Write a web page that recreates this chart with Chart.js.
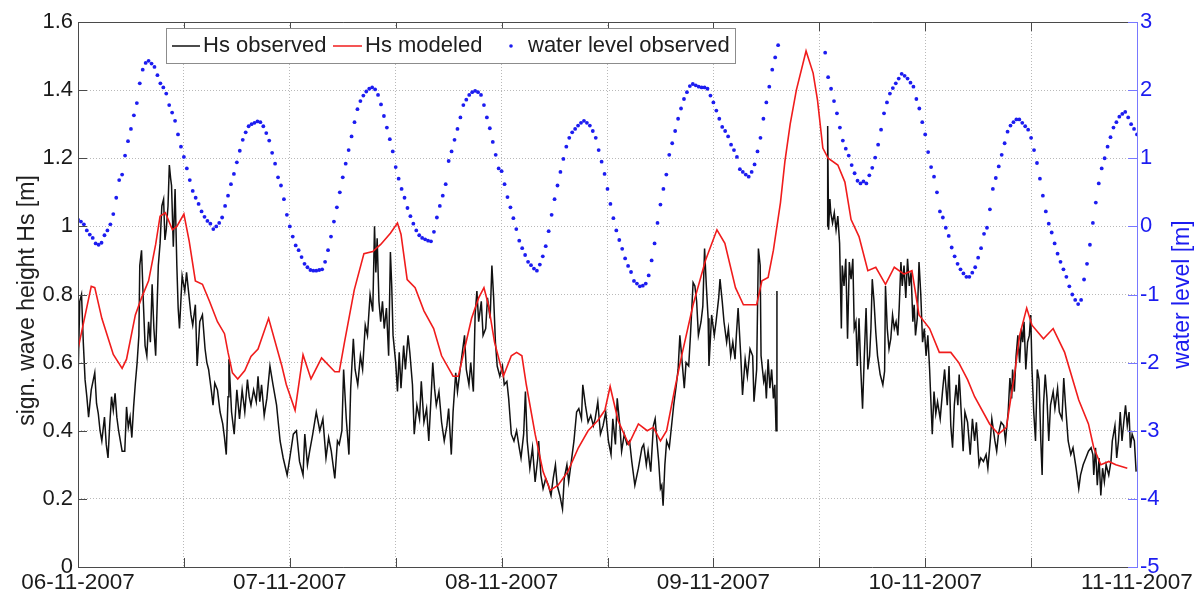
<!DOCTYPE html>
<html>
<head>
<meta charset="utf-8">
<title>Hs and water level, 6-11 Nov 2007</title>
<script src="https://cdn.jsdelivr.net/npm/chart.js@4/dist/chart.umd.min.js"></script>
<style>
  html, body { margin: 0; padding: 0; background: #fff; }
</style>
</head>
<body>
<canvas id="waveChart" width="1202" height="592"></canvas>
<script>
// x axis runs in hours from 06-11-2007 00:00
const dayLabels = ["06-11-2007", "07-11-2007", "08-11-2007", "09-11-2007", "10-11-2007", "11-11-2007"];

// measured significant wave height [m] as [hour, Hs]; null marks the logger gap
const hsObserved = [
  [0,0.55],[0.2,0.78],[0.4,0.80],[0.6,0.66],[0.8,0.55],[1.0,0.50],[1.2,0.44],[1.5,0.52],[1.9,0.57],[2.1,0.48],
  [2.3,0.45],[2.5,0.40],[2.7,0.37],[3.0,0.44],[3.2,0.36],[3.4,0.32],[3.6,0.42],[3.8,0.50],[4.0,0.46],[4.2,0.51],
  [4.4,0.44],[4.6,0.40],[4.8,0.37],[5.0,0.34],[5.3,0.34],[5.5,0.47],[5.7,0.41],[5.9,0.44],[6.1,0.38],[6.3,0.47],
  [6.5,0.54],[6.7,0.60],[6.9,0.68],[7.0,0.885],[7.2,0.93],[7.4,0.78],[7.6,0.65],[7.8,0.62],[8.0,0.72],[8.2,0.66],
  [8.4,0.83],[8.6,0.70],[8.8,0.62],[9.1,0.885],[9.3,0.95],[9.5,1.06],[9.7,1.08],[9.85,0.96],[10.0,0.99],[10.2,1.06],
  [10.35,1.18],[10.5,1.14],[10.6,1.12],[10.8,0.94],[11.0,1.11],[11.2,0.885],[11.35,0.76],[11.5,0.70],[11.8,0.855],[12.1,0.81],
  [12.3,0.865],[12.6,0.79],[12.8,0.74],[13.0,0.71],[13.3,0.77],[13.5,0.59],[13.8,0.72],[14.1,0.74],[14.4,0.64],[14.6,0.60],
  [14.8,0.58],[15.1,0.52],[15.3,0.475],[15.5,0.54],[15.8,0.52],[16.1,0.455],[16.4,0.42],[16.6,0.38],[16.8,0.33],[17.0,0.50],
  [17.1,0.61],[17.4,0.455],[17.7,0.39],[18.0,0.52],[18.3,0.435],[18.6,0.52],[18.9,0.455],[19.2,0.55],[19.4,0.50],[19.6,0.475],
  [19.9,0.52],[20.2,0.485],[20.4,0.56],[20.6,0.485],[20.8,0.535],[21.1,0.445],[21.4,0.495],[21.75,0.59],[22.1,0.535],[22.5,0.475],
  [22.9,0.37],[23.25,0.32],[23.7,0.27],[24.0,0.32],[24.4,0.39],[24.75,0.40],[25.1,0.31],[25.5,0.27],[25.7,0.39],[26.0,0.30],
  [26.25,0.34],[26.6,0.39],[27.0,0.455],[27.4,0.40],[27.75,0.435],[28.1,0.32],[28.4,0.38],[28.7,0.34],[29.1,0.26],[29.4,0.37],
  [29.6,0.36],[29.9,0.40],[30.1,0.58],[30.4,0.435],[30.7,0.33],[30.9,0.525],[31.2,0.67],[31.4,0.58],[31.7,0.535],[32.0,0.62],
  [32.25,0.58],[32.55,0.71],[32.8,0.68],[33.1,0.80],[33.4,0.75],[33.6,1.00],[33.75,0.865],[33.9,0.965],[34.1,0.78],[34.3,0.72],
  [34.5,0.78],[34.7,0.70],[34.95,0.76],[35.2,0.62],[35.4,0.925],[35.55,0.825],[35.7,0.68],[36.0,0.60],[36.2,0.515],[36.4,0.63],
  [36.6,0.525],[36.9,0.65],[37.1,0.58],[37.4,0.68],[37.6,0.63],[37.9,0.535],[38.1,0.39],[38.4,0.475],[38.7,0.435],[38.9,0.545],
  [39.2,0.425],[39.5,0.465],[39.75,0.37],[40.0,0.495],[40.2,0.60],[40.4,0.525],[40.6,0.475],[40.9,0.515],[41.2,0.425],[41.5,0.37],
  [41.8,0.415],[42.0,0.465],[42.3,0.33],[42.5,0.455],[42.8,0.57],[43.0,0.515],[43.3,0.58],[43.5,0.62],[43.8,0.68],[44.0,0.58],
  [44.3,0.535],[44.5,0.60],[44.8,0.515],[45.0,0.74],[45.2,0.81],[45.4,0.72],[45.7,0.78],[45.9,0.68],[46.2,0.70],[46.4,0.79],
  [46.7,0.73],[46.9,0.885],[47.1,0.79],[47.3,0.66],[47.5,0.59],[47.8,0.56],[48.1,0.59],[48.3,0.535],[48.6,0.545],[48.8,0.495],
  [49.1,0.39],[49.4,0.37],[49.7,0.40],[50.0,0.35],[50.2,0.32],[50.5,0.39],[50.7,0.515],[50.9,0.37],[51.2,0.29],[51.5,0.35],
  [51.8,0.25],[52.1,0.32],[52.2,0.37],[52.45,0.27],[52.7,0.23],[53.0,0.26],[53.3,0.24],[53.6,0.21],[53.85,0.26],[54.1,0.30],
  [54.3,0.24],[54.6,0.21],[54.9,0.17],[55.1,0.26],[55.4,0.30],[55.6,0.25],[55.9,0.31],[56.2,0.37],[56.5,0.455],[56.75,0.465],
  [57.05,0.435],[57.2,0.535],[57.5,0.475],[57.8,0.425],[58.1,0.445],[58.4,0.415],[58.6,0.435],[58.9,0.485],[59.2,0.39],[59.5,0.415],
  [59.8,0.455],[60.1,0.37],[60.4,0.33],[60.6,0.435],[60.9,0.36],[61.1,0.495],[61.4,0.415],[61.6,0.34],[61.9,0.39],[62.2,0.36],
  [62.5,0.37],[62.75,0.31],[63.1,0.24],[63.5,0.29],[63.9,0.35],[64.1,0.36],[64.4,0.30],[64.6,0.34],[64.9,0.28],[65.2,0.415],
  [65.4,0.435],[65.6,0.37],[65.8,0.31],[66.0,0.23],[66.15,0.24],[66.3,0.18],[66.5,0.30],[66.7,0.37],[67.0,0.35],[67.3,0.425],
  [67.5,0.475],[67.8,0.535],[68.0,0.58],[68.2,0.68],[68.4,0.62],[68.7,0.525],[68.9,0.60],[69.2,0.59],[69.4,0.68],[69.7,0.835],
  [69.9,0.825],[70.1,0.78],[70.3,0.68],[70.6,0.72],[70.8,0.765],[71.0,0.935],[71.2,0.825],[71.4,0.73],[71.5,0.59],[71.8,0.74],
  [72.1,0.68],[72.3,0.72],[72.6,0.79],[72.75,0.845],[73.0,0.78],[73.2,0.72],[73.5,0.66],[73.7,0.70],[73.96,0.62],[74.2,0.66],
  [74.45,0.61],[74.6,0.68],[74.8,0.76],[75.1,0.62],[75.3,0.505],[75.6,0.61],[75.85,0.56],[76.15,0.64],[76.45,0.62],[76.6,0.485],
  [76.9,0.58],[77.1,0.935],[77.3,0.885],[77.4,0.62],[77.7,0.545],[77.85,0.565],[78.0,0.495],[78.2,0.61],[78.4,0.525],[78.6,0.58],
  [78.8,0.495],[78.96,0.535],[79.1,0.40],[79.2,0.81],[82,null],
  [84.9,1.00],[84.95,1.295],[85.05,0.99],[85.2,1.08],[85.3,1.04],[85.5,1.01],[85.7,1.04],[85.9,0.99],[86.1,1.03],[86.3,0.95],
  [86.5,0.70],[86.6,0.885],[86.8,0.825],[87.0,0.905],[87.2,0.67],[87.4,0.895],[87.6,0.845],[87.8,0.905],[87.96,0.70],[88.15,0.72],
  [88.3,0.59],[88.5,0.73],[88.7,0.58],[88.9,0.465],[89.1,0.62],[89.3,0.76],[89.5,0.58],[89.7,0.62],[89.85,0.70],[90.0,0.845],
  [90.2,0.78],[90.4,0.69],[90.6,0.62],[90.9,0.565],[91.2,0.535],[91.4,0.575],[91.5,0.825],[91.7,0.70],[91.9,0.64],[92.1,0.67],
  [92.3,0.74],[92.5,0.70],[92.7,0.72],[92.9,0.68],[93.05,0.76],[93.25,0.895],[93.4,0.825],[93.6,0.885],[93.8,0.79],[94.0,0.905],
  [94.2,0.825],[94.4,0.865],[94.6,0.72],[94.75,0.77],[94.9,0.68],[95.1,0.73],[95.3,0.895],[95.5,0.80],[95.7,0.66],[95.9,0.70],
  [96.1,0.62],[96.3,0.68],[96.5,0.58],[96.6,0.515],[96.8,0.39],[97.0,0.515],[97.2,0.45],[97.4,0.485],[97.7,0.435],[97.96,0.515],
  [98.2,0.58],[98.5,0.475],[98.7,0.59],[98.9,0.415],[99.1,0.35],[99.3,0.475],[99.5,0.535],[99.7,0.475],[99.85,0.565],[100.0,0.495],
  [100.3,0.34],[100.5,0.455],[100.8,0.425],[101.1,0.33],[101.35,0.435],[101.6,0.37],[101.8,0.425],[102.1,0.30],[102.3,0.32],[102.6,0.31],
  [102.9,0.33],[103.1,0.29],[103.4,0.38],[103.55,0.435],[103.9,0.37],[104.1,0.34],[104.3,0.39],[104.6,0.425],[104.9,0.415],[105.1,0.37],
  [105.4,0.455],[105.6,0.555],[105.8,0.495],[105.9,0.58],[106.1,0.515],[106.3,0.62],[106.5,0.68],[106.7,0.60],[106.9,0.70],[107.05,0.66],
  [107.2,0.72],[107.4,0.58],[107.6,0.66],[107.8,0.68],[107.96,0.74],[108.1,0.58],[108.3,0.455],[108.5,0.37],[108.7,0.58],[108.9,0.55],
  [109.1,0.37],[109.25,0.27],[109.4,0.475],[109.6,0.565],[109.8,0.495],[110.0,0.37],[110.2,0.475],[110.5,0.515],[110.7,0.465],[111.0,0.525],
  [111.2,0.455],[111.5,0.435],[111.7,0.555],[111.9,0.475],[112.2,0.37],[112.5,0.33],[112.75,0.35],[113.1,0.29],[113.4,0.23],[113.6,0.27],
  [113.9,0.30],[114.2,0.32],[114.5,0.34],[114.8,0.35],[115.0,0.33],[115.1,0.27],[115.3,0.35],[115.5,0.24],[115.7,0.32],[115.9,0.21],
  [116.1,0.29],[116.3,0.25],[116.5,0.30],[116.8,0.27],[117.05,0.31],[117.2,0.37],[117.5,0.415],[117.7,0.32],[117.9,0.37],[118.1,0.455],
  [118.3,0.37],[118.5,0.425],[118.7,0.475],[118.9,0.415],[119.1,0.455],[119.25,0.35],[119.45,0.39],[119.7,0.37],[119.9,0.28]
];

// model output [hour, Hs]
const hsModeled = [
  [0,0.64],[1.5,0.824],[1.9,0.82],[2.7,0.73],[4.0,0.624],[5.0,0.583],[5.5,0.61],[6.5,0.74],[7.2,0.79],[8.0,0.84],
  [8.8,0.947],[9.3,1.03],[9.9,1.04],[10.7,0.99],[11.2,1.0],[12.0,1.036],[12.6,0.957],[13.3,0.84],[14.1,0.83],[14.9,0.78],
  [15.8,0.72],[16.6,0.685],[17.0,0.63],[17.5,0.57],[18.1,0.552],[18.9,0.577],[19.6,0.618],[20.4,0.64],[21.6,0.73],[23.1,0.59],
  [23.6,0.536],[24.6,0.46],[25.5,0.623],[26.4,0.552],[27.6,0.614],[29.1,0.573],[29.6,0.573],[30.2,0.66],[31.3,0.813],[32.4,0.92],
  [33.4,0.926],[34.3,0.947],[35.4,0.98],[36.2,1.01],[36.6,0.977],[37.3,0.844],[38.2,0.82],[39.2,0.752],[40.3,0.70],[41.2,0.62],
  [42.5,0.56],[43.1,0.56],[43.8,0.64],[44.6,0.73],[45.4,0.79],[46.0,0.82],[46.5,0.77],[47.2,0.66],[48.2,0.56],[49.1,0.62],
  [49.7,0.63],[50.3,0.62],[50.8,0.535],[51.8,0.39],[52.7,0.28],[53.5,0.225],[54.4,0.24],[55.5,0.28],[56.7,0.35],[57.8,0.40],
  [58.9,0.43],[59.7,0.46],[60.3,0.53],[61.2,0.43],[62.4,0.36],[63.5,0.42],[64.5,0.40],[65.2,0.41],[66.0,0.37],[66.7,0.40],
  [67.6,0.52],[68.4,0.62],[69.7,0.77],[71.1,0.90],[72.4,0.99],[73.3,0.95],[74.5,0.82],[75.4,0.77],[76.9,0.77],[77.5,0.84],
  [78.2,0.85],[78.8,0.93],[79.6,1.07],[80.1,1.19],[80.7,1.30],[81.4,1.40],[82.5,1.515],[83.3,1.45],[83.8,1.37],[84.4,1.23],
  [85.0,1.20],[86.1,1.18],[86.9,1.13],[87.6,1.02],[88.5,0.97],[89.5,0.87],[90.4,0.88],[91.5,0.83],[92.5,0.88],[93.6,0.86],
  [94.5,0.87],[95.3,0.74],[96.5,0.70],[97.6,0.63],[98.9,0.63],[99.8,0.60],[100.8,0.55],[101.6,0.50],[103.3,0.42],[104.3,0.39],
  [105.2,0.41],[106.2,0.58],[106.7,0.68],[107.5,0.76],[108.1,0.71],[109.4,0.67],[110.5,0.70],[111.8,0.63],[113.4,0.49],[114.5,0.42],
  [115.1,0.35],[115.9,0.30],[116.8,0.31],[117.6,0.30],[118.9,0.29]
];

// observed water level [m], one reading every 20 minutes from hour 0
const waterStepHours = 1 / 3;
const waterLevel = [
  0.10, 0.07, 0.03,  -0.06, -0.12, -0.17,  -0.25, -0.27, -0.24,  -0.13, -0.06, 0.03,
  0.18, 0.42, 0.68,  0.76, 1.04, 1.25,  1.43, 1.63, 1.81,  2.10, 2.30, 2.40,
  2.43, 2.39, 2.34,  2.22, 2.10, 2.04,  1.95, 1.78, 1.67,  1.55, 1.35, 1.17,
  1.02, 0.85, 0.68,  0.52, 0.42, 0.33,  0.22, 0.14, 0.08,  0.04, -0.04, 0.00,
  0.05, 0.13, 0.30,  0.45, 0.62, 0.77,  0.94, 1.11, 1.27,  1.38, 1.47, 1.50,
  1.52, 1.54, 1.53,  1.47, 1.37, 1.26,  1.08, 0.92, 0.72,  0.60, 0.40, 0.17,
  0.00, -0.15, -0.28,  -0.35, -0.45, -0.55,  -0.60, -0.64, -0.65,  -0.65, -0.64, -0.63,
  -0.52, -0.35, -0.15,  0.07, 0.28, 0.50,  0.72, 0.92, 1.12,  1.32, 1.53, 1.72,
  1.84, 1.92, 1.98,  2.02, 2.04, 2.01,  1.93, 1.79, 1.62,  1.45, 1.28, 1.10,
  0.87, 0.70, 0.55,  0.42, 0.27, 0.15,  0.04, -0.06, -0.13,  -0.17, -0.19, -0.21,
  -0.22, -0.08, 0.13,  0.30, 0.45, 0.62,  0.96, 1.10, 1.27,  1.43, 1.60, 1.78,
  1.86, 1.93, 1.97,  1.99, 1.97, 1.93,  1.78, 1.60, 1.44,  1.24, 1.05, 0.85,
  0.81, 0.62, 0.43,  0.28, 0.12, -0.04,  -0.21, -0.32, -0.42,  -0.52, -0.57, -0.62,
  -0.65, -0.56, -0.44,  -0.29, -0.07, 0.17,  0.40, 0.60, 0.80,  0.99, 1.17, 1.30,
  1.38, 1.43, 1.48,  1.52, 1.55, 1.52,  1.48, 1.40, 1.30,  1.12, 0.95, 0.77,
  0.55, 0.33, 0.12,  -0.06, -0.20, -0.33,  -0.47, -0.58, -0.67,  -0.80, -0.84, -0.88,
  -0.87, -0.84, -0.72,  -0.50, -0.25, 0.05,  0.32, 0.55, 0.76,  1.05, 1.22, 1.40,
  1.58, 1.73, 1.87,  1.97, 2.06, 2.09,  2.07, 2.05, 2.04,  2.04, 2.02, 1.92,
  1.82, 1.70, 1.58,  1.46, 1.40, 1.32,  1.20, 1.12, 1.02,  0.84, 0.80, 0.76,
  0.73, 0.80, 0.91,  1.10, 1.30, 1.58,  1.82, 2.05, 2.30,  2.48, 2.66, null,
  null, null, null,  null, null, null,  null, null, null,  null, null, null,
  null, null, 2.55,  2.19, 2.02, 1.84,  1.66, 1.45, 1.26,  1.14, 1.04, 0.90,
  0.78, 0.67, 0.63,  0.66, 0.63, 0.75,  0.86, 1.01, 1.20,  1.42, 1.66, 1.82,
  1.95, 2.03, 2.10,  2.17, 2.24, 2.21,  2.17, 2.11, 2.05,  1.87, 1.73, 1.53,
  1.35, 1.09, 0.87,  0.73, 0.50, 0.22,  0.13, -0.02, -0.14,  -0.31, -0.44, -0.55,
  -0.63, -0.69, -0.74,  -0.74, -0.68, -0.60,  -0.46, -0.32, -0.11,  -0.02, 0.25, 0.55,
  0.71, 0.88, 1.05,  1.22, 1.39, 1.48,  1.53, 1.57, 1.57,  1.52, 1.47, 1.42,
  1.30, 1.12, 0.93,  0.70, 0.45, 0.22,  0.04, -0.09, -0.25,  -0.40, -0.52, -0.63,
  -0.74, -0.88, -1.00,  -1.08, -1.14, -1.08,  -0.78, -0.55, -0.27,  0.05, 0.35, 0.63,
  0.85, 1.00, 1.17,  1.31, 1.45, 1.53,  1.61, 1.65, 1.68,  1.60, 1.50, 1.43,
  1.35
];

const FONT = '"Liberation Sans", Arial, Helvetica, sans-serif';
const BLUE = "#1c1cf0";

// MATLAB-like frame: inward tick marks, box, legend and rotated axis titles
const matlabFrame = {
  id: "matlabFrame",
  afterDatasetsDraw(chart) {
    const { ctx, chartArea: a, scales } = chart;
    const { x, y, y2 } = scales;
    const tick = 9;
    ctx.save();
    ctx.lineWidth = 1;

    ctx.strokeStyle = "#4a4a4a";
    ctx.beginPath();
    x.ticks.forEach(t => {
      const px = Math.round(x.getPixelForValue(t.value)) + 0.5;
      ctx.moveTo(px, a.bottom); ctx.lineTo(px, a.bottom - tick);
      ctx.moveTo(px, a.top); ctx.lineTo(px, a.top + tick);
    });
    y.ticks.forEach(t => {
      const py = Math.round(y.getPixelForValue(t.value)) + 0.5;
      ctx.moveTo(a.left, py); ctx.lineTo(a.left + tick, py);
    });
    ctx.moveTo(a.right, a.top + 0.5);
    ctx.lineTo(a.left + 0.5, a.top + 0.5);
    ctx.lineTo(a.left + 0.5, a.bottom + 0.5);
    ctx.lineTo(a.right, a.bottom + 0.5);
    ctx.stroke();

    // right axis in blue
    ctx.strokeStyle = "#7878ff";
    ctx.beginPath();
    ctx.moveTo(a.right + 0.5, a.top);
    ctx.lineTo(a.right + 0.5, a.bottom + 1);
    y2.ticks.forEach(t => {
      const py = Math.round(y2.getPixelForValue(t.value)) + 0.5;
      ctx.moveTo(a.right, py); ctx.lineTo(a.right - tick, py);
    });
    ctx.stroke();

    // legend box
    const ds = chart.data.datasets;
    ctx.fillStyle = "#fff";
    ctx.fillRect(166, 28, 569, 35);
    ctx.strokeStyle = "#8c8c8c";
    ctx.strokeRect(166.5, 28.5, 569, 35);
    const ly = 46;
    ctx.lineWidth = 1.5;
    ctx.strokeStyle = ds[0].borderColor;
    ctx.beginPath(); ctx.moveTo(172, ly); ctx.lineTo(200, ly); ctx.stroke();
    ctx.strokeStyle = ds[1].borderColor;
    ctx.beginPath(); ctx.moveTo(333, ly); ctx.lineTo(362, ly); ctx.stroke();
    ctx.fillStyle = ds[2].backgroundColor;
    ctx.beginPath(); ctx.arc(511, ly, 1.8, 0, Math.PI * 2); ctx.fill();

    ctx.font = "22px " + FONT;
    ctx.fillStyle = "#202020";
    ctx.textBaseline = "middle";
    ctx.textAlign = "left";
    ctx.fillText(ds[0].label, 203, ly);
    ctx.fillText(ds[1].label, 365, ly);
    ctx.fillText(ds[2].label, 528, ly);

    // axis titles, both reading bottom to top
    const midY = (a.top + a.bottom) / 2;
    ctx.font = "23px " + FONT;
    ctx.textAlign = "center";
    ctx.save();
    ctx.translate(28, midY + 6);
    ctx.rotate(-Math.PI / 2);
    ctx.fillStyle = "#202020";
    ctx.fillText("sign. wave height Hs [m]", 0, 0);
    ctx.restore();
    ctx.save();
    ctx.translate(1183, midY);
    ctx.rotate(-Math.PI / 2);
    ctx.fillStyle = BLUE;
    ctx.fillText("water level [m]", 0, 0);
    ctx.restore();

    ctx.restore();
  }
};

const gridStyle = { color: "#b9b9b9", lineWidth: 1, drawTicks: false };
const gridBorder = { display: false, dash: [1, 2] };

new Chart(document.getElementById("waveChart"), {
  type: "line",
  data: {
    datasets: [
      {
        label: "Hs observed",
        data: hsObserved.map(([h, v]) => ({ x: h, y: v })),
        borderColor: "#111111",
        borderWidth: 1.5,
        pointRadius: 0,
        tension: 0,
        spanGaps: false,
        yAxisID: "y",
        order: 3
      },
      {
        label: "Hs modeled",
        data: hsModeled.map(([h, v]) => ({ x: h, y: v })),
        borderColor: "#f01c1c",
        borderWidth: 1.6,
        pointRadius: 0,
        tension: 0,
        yAxisID: "y",
        order: 2
      },
      {
        label: "water level observed",
        data: waterLevel.map((v, i) => ({ x: i * waterStepHours, y: v })),
        showLine: false,
        backgroundColor: BLUE,
        borderColor: BLUE,
        borderWidth: 0,
        pointRadius: 1.9,
        pointStyle: "circle",
        yAxisID: "y2",
        order: 1
      }
    ]
  },
  options: {
    responsive: false,
    animation: false,
    layout: { padding: { top: 22, left: 0, right: 0, bottom: 0 } },
    plugins: { legend: { display: false }, tooltip: { enabled: false } },
    scales: {
      x: {
        type: "linear",
        min: 0,
        max: 120,
        grid: gridStyle,
        border: gridBorder,
        afterFit: s => { s.height = 25; },
        ticks: {
          stepSize: 12,
          autoSkip: false,
          maxRotation: 0,
          minRotation: 0,
          padding: 2,
          color: "#1a1a1a",
          font: { family: FONT, size: 22.5 },
          callback: v => (v % 24 === 0 ? dayLabels[v / 24] : "")
        }
      },
      y: {
        position: "left",
        min: 0,
        max: 1.6,
        grid: gridStyle,
        border: gridBorder,
        afterFit: s => { s.width = 78; },
        ticks: {
          stepSize: 0.2,
          padding: 5,
          color: "#1a1a1a",
          font: { family: FONT, size: 22 },
          callback: v => String(parseFloat(v.toFixed(1)))
        }
      },
      y2: {
        position: "right",
        min: -5,
        max: 3,
        grid: { display: false, drawTicks: false },
        border: { display: false },
        afterFit: s => { s.width = 65; },
        ticks: {
          stepSize: 1,
          padding: 3,
          color: BLUE,
          font: { family: FONT, size: 22 },
          callback: v => String(v)
        }
      }
    }
  },
  plugins: [matlabFrame]
});
</script>
</body>
</html>
